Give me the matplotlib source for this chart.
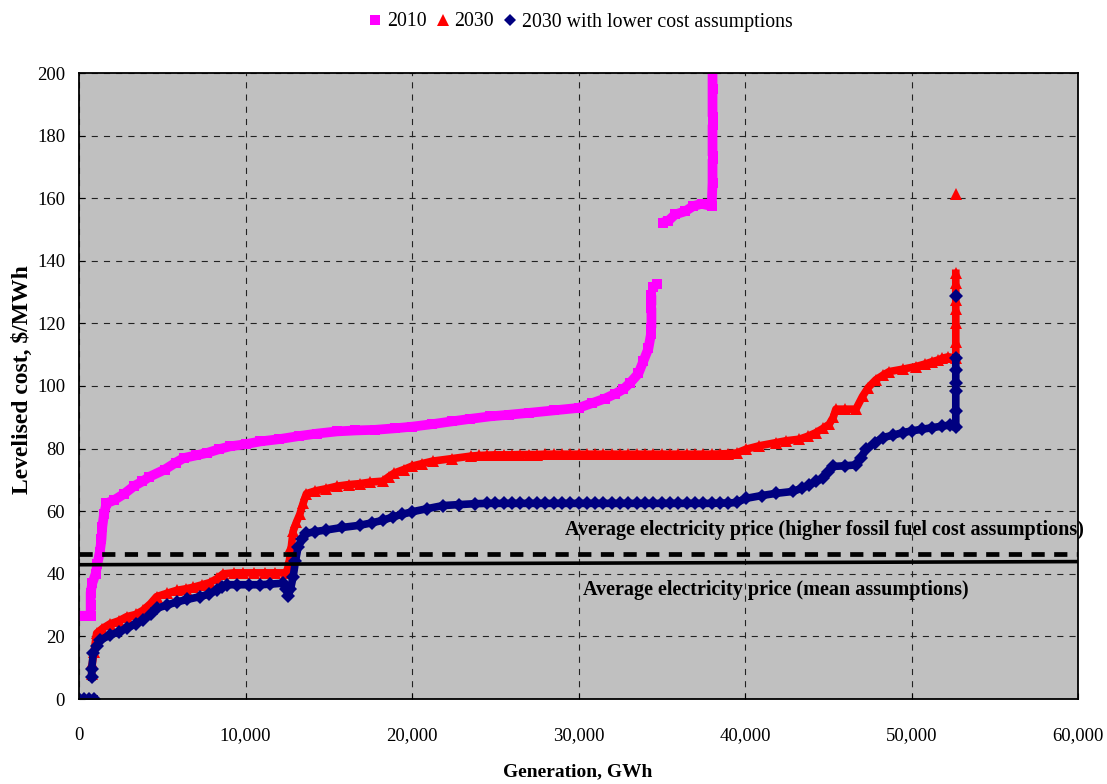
import numpy as np
import matplotlib
matplotlib.use("Agg")
import matplotlib.pyplot as plt
from matplotlib.lines import Line2D
from matplotlib.ticker import FuncFormatter

plt.rcParams['font.family'] = ['Liberation Serif', 'DejaVu Serif']

nan = np.nan

#%% data (GWh, $/MWh); nan breaks the band where there are gaps
gen_2010 = [0, 350, 700, 700, 700, 800, 1000, 1100, 1250, 1350, 1400, 1500, 1650,
            2100, 2700, 3300, 3800, 4230, 5150, 5800, 6300, 7000, 7680, 8400, 9060,
            10000, 10900, 12000, 13200, 14300, 15500, 16600, 17800, 19000, 20000,
            21200, 22400, 23500, 24700, 25800, 27000, 28500, 30000, 30800, 31600,
            32200, 32700, 33100, 33600, 33900, 34200, 34350, nan, 34380, 34380, nan,
            34380, 34380, nan, 34450, 34700, nan, 35050, 35400, 35800, 36400, 36900,
            37400, 38000, 38050, 38050, nan, 38050, 38050, nan, 38050, 38050, 38050]
cost_2010 = [26.6, 26.6, 26.6, 30, 34, 37, 40, 43, 47, 51, 55, 59, 62.5,
             63.5, 65.5, 68, 69.5, 71, 73.3, 75.5, 77, 77.8, 78.6, 79.8, 80.7,
             81.4, 82.3, 83, 84, 84.8, 85.5, 85.8, 86, 86.5, 87,
             87.8, 88.7, 89.5, 90.3, 90.8, 91.4, 92.2, 93, 94.5, 96,
             97.5, 99, 101, 104, 108, 112, 116.5, nan, 118.5, 125, nan,
             125.8, 129, nan, 131.5, 132.5, nan, 152.2, 152.8, 154.8, 155.8, 157.5,
             158.2, 157.5, 165, 172.5, nan, 173.5, 183.5, nan, 186, 195, 205]

gen_2030 = [0, 300, 600, 900, nan, 760, 800, 900, 1060, 1400, 1860, 2400, 2860, 3400,
            3860, 4300, 4660, 5300, 5860, 6400, 6860, 7400, 7860, 8300, 8660, 9300,
            9860, 10500, 11200, 11800, 12460, 12600, 12660, 12760, 12860, 13060, 13260,
            13460, 13660, 14200, 14860, 15500, 16200, 16860, 17500, 18250, 18600, 18940,
            19500, 20000, 20600, 21240, 22400, 23540, 24000, 24500, 25000, 25500, 26000,
            26500, 27000, 27500, 28000, 28500, 29000, 29500, 30000, 30500, 31000, 31500,
            32000, 32500, 33000, 33500, 34000, 34500, 35000, 35500, 36000, 36500, 37000,
            37500, 38000, 38500, 39000, 39500, 40060, 40860, 41860, 42460, 43260, 43800,
            44260, 44700, 45060, 45300, 45460, 46000, 46660, 47060, 47400, 47860, 48300,
            48660, 49500, 50260, 50800, 51260, 51600, 51860, 52200, 52660, 52660, 52660,
            52660, nan, 52660, 52660, 52660, nan, 52660]
cost_2030 = [0, 0, 0, 0, nan, 8, 11.4, 15, 21, 22.5, 24, 25, 26.3, 27,
             28.4, 30.5, 32.7, 33.8, 34.7, 35.2, 35.7, 36.5, 37.2, 38.5, 40, 40.3,
             40.3, 40.3, 40.3, 40.3, 40.3, 43, 45.1, 49, 53.6, 56.5, 59,
             62.5, 65.6, 66.5, 67.2, 68, 68.5, 68.8, 69.3, 69.6, 71, 72.2,
             73.3, 74.4, 75.2, 76, 76.8, 77.6, 77.8, 77.9, 78, 78, 78,
             78.1, 78.1, 78.1, 78.2, 78.2, 78.2, 78.2, 78.2, 78.2, 78.2, 78.2,
             78.2, 78.2, 78.2, 78.2, 78.2, 78.2, 78.2, 78.2, 78.2, 78.2, 78.2,
             78.2, 78.2, 78.3, 78.4, 78.6, 79.8, 80.9, 81.9, 82.5, 83, 84,
             85.1, 86.5, 87.8, 90, 92.6, 92.6, 92.6, 96.7, 99.5, 102, 103.5,
             104.6, 105.4, 106.2, 107, 107.8, 108.3, 108.9, 109.3, 109, 114, 120,
             124.5, nan, 127.5, 133, 136, nan, 161.2]

gen_2030_low = [0, 300, 600, 900, nan, 760, 760, 860, 1060, 1260, 1860, 2400, 2860, 3400,
                3860, 4300, 4660, 5300, 5860, 6500, 7260, 7800, 8260, 8560, 8860, 9500,
                10200, 10860, 11500, 12260, 12460, 12560, 12700, 12860, 13000, 13160, 13400,
                13660, 14200, 14860, 15800, 16860, 17600, 18260, 18860, 19400, 20000, 20900,
                21860, 22800, 23800, 24500, 25000, 25500, 26000, 26500, 27000, 27500, 28000,
                28500, 29000, 29500, 30000, 30500, 31000, 31500, 32000, 32500, 33000, 33500,
                34000, 34500, 35000, 35500, 36000, 36500, 37000, 37500, 38000, 38500, 39000,
                39500, 40060, 41000, 41860, 42860, 43400, 43860, 44260, 44660, 45000, 45260,
                46000, 46660, 46950, 47260, 47800, 48260, 48900, 49460, 50060, 50660, 51260,
                51860, 52300, nan, 52660, 52660, 52660, nan, 52660, 52660, 52660, nan, 52660]
cost_2030_low = [0, 0, 0, 0, nan, 7, 9.5, 14.6, 17, 18.8, 20.4, 21.5, 22.6, 24,
                 25.2, 27, 29, 30, 31, 31.8, 32.7, 33.5, 34.8, 35.8, 36.5, 36.5,
                 36.5, 36.5, 36.7, 37, 35, 33, 35, 39, 44, 48.6, 51,
                 52.9, 53.5, 54, 54.8, 55.5, 56.3, 57.1, 58.2, 59, 59.8, 60.8,
                 61.8, 62.1, 62.4, 62.5, 62.5, 62.5, 62.5, 62.5, 62.5, 62.5, 62.5,
                 62.5, 62.5, 62.5, 62.5, 62.5, 62.5, 62.5, 62.5, 62.5, 62.5, 62.5,
                 62.5, 62.5, 62.5, 62.5, 62.5, 62.5, 62.5, 62.5, 62.5, 62.6, 62.6,
                 62.8, 64.1, 65, 65.7, 66.3, 67.3, 68.4, 69.5, 70.5, 72.5, 74.3,
                 74.5, 74.8, 77, 79.8, 81.8, 83.5, 84.3, 85.1, 85.7, 86.2, 86.7,
                 87.2, 87.5, nan, 87, 92, 98.5, nan, 101, 105, 109, nan, 128.8]

# average electricity price lines
price_high_x = [0, 60000]
price_high = [46.3, 46.3]
price_mean_x = [100, 60000]
price_mean = [42.9, 43.9]

series_labels = ['2010', '2030', '2030 with lower cost assumptions']
series_colors = ['#FF00FF', '#FF0000', '#000080']
x_ticks = [0, 10000, 20000, 30000, 40000, 50000, 60000]
y_ticks = [0, 20, 40, 60, 80, 100, 120, 140, 160, 180, 200]

#%% figure
fig = plt.figure(figsize=(11.07, 7.84), dpi=100)
ax = fig.add_axes([79/1107, 85/784, 999/1107, 626/784])
ax.set_facecolor('#C0C0C0')

ax.plot(gen_2010, cost_2010, '-', color=series_colors[0], lw=7, solid_capstyle='butt', zorder=3)
ax.plot(gen_2010, cost_2010, 's', color=series_colors[0], ms=7.5, mew=0, zorder=3)
ax.plot(gen_2030, cost_2030, '-', color=series_colors[1], lw=5.5, zorder=4)
ax.plot(gen_2030, cost_2030, '^', color=series_colors[1], ms=9, mew=0, zorder=4)
ax.plot(gen_2030_low, cost_2030_low, '-', color=series_colors[2], lw=5.5, zorder=5)
ax.plot(gen_2030_low, cost_2030_low, 'D', color=series_colors[2], ms=7.5, mew=0, zorder=5)

ax.plot(price_high_x, price_high, color='black', lw=3.4, dashes=(2.8, 2.0), zorder=6)
ax.plot(price_mean_x, price_mean, color='black', lw=2.6, zorder=6)

ax.text(44745, 54, 'Average electricity price (higher fossil fuel cost assumptions)',
        ha='center', va='center', fontsize=14.5, fontweight='bold', clip_on=False, zorder=7)
ax.text(41830, 34.8, 'Average electricity price (mean assumptions)',
        ha='center', va='center', fontsize=14.5, fontweight='bold', zorder=7)

ax.set_xlim(0, 60000)
ax.set_ylim(0, 200)
ax.set_xticks(x_ticks)
ax.set_yticks(y_ticks)
ax.xaxis.set_major_formatter(FuncFormatter(lambda v, p: f'{int(v):,}'))
ax.tick_params(axis='x', direction='in', length=4, labelsize=13.5, pad=20)
ax.tick_params(axis='y', direction='in', length=4, labelsize=13.5, pad=10)
ax.grid(True, color='#222222', lw=0.8, dashes=(5.5, 5.5), zorder=0)
ax.set_axisbelow(True)
for sp in ax.spines.values():
    sp.set_linewidth(1.3)
    sp.set_zorder(8)

fig.text(578/1107, 1 - 772/784, 'Generation, GWh', ha='center', va='center',
         fontsize=14, fontweight='bold')
fig.text(22/1107, 1 - 380/784, 'Levelised cost, $/MWh', ha='center', va='center',
         rotation=90, fontsize=17, fontweight='bold')

#legend up top, markers only
handles = [Line2D([], [], ls='none', marker='s', color=series_colors[0], ms=7.5, mew=0),
           Line2D([], [], ls='none', marker='^', color=series_colors[1], ms=8.5, mew=0),
           Line2D([], [], ls='none', marker='D', color=series_colors[2], ms=6.5, mew=0)]
fig.legend(handles, series_labels, loc='center', bbox_to_anchor=(580/1107, 1 - 22/784),
           ncol=3, frameon=False, fontsize=14.3, handlelength=0.8, handletextpad=0.2,
           columnspacing=0.4)

fig.savefig('out.png', dpi=100)
